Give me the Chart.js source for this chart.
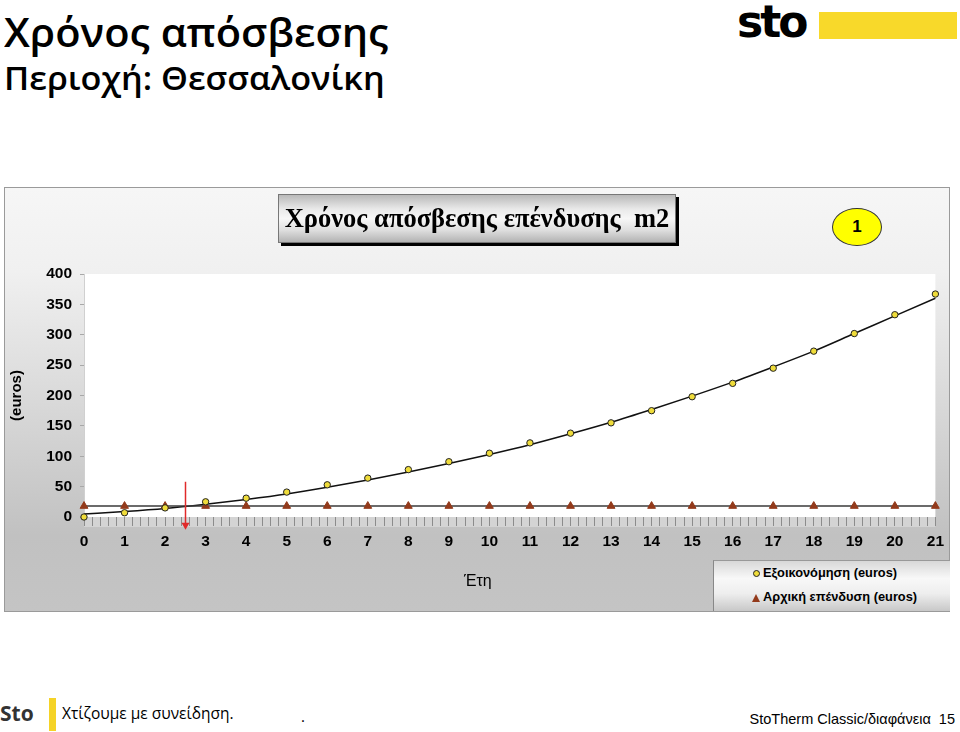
<!DOCTYPE html>
<html>
<head>
<meta charset="utf-8">
<script src="https://cdn.jsdelivr.net/npm/chart.js@4.4.1/dist/chart.umd.min.js"></script>
<style>
  html, body { margin:0; padding:0; background:#fff; }
  body { width:960px; height:732px; position:relative; overflow:hidden; font-family:"Liberation Sans", Arial, sans-serif; }
  .abs { position:absolute; white-space:nowrap; }
  #t1 { left:4px; top:9px; font-family:"Open Sans", sans-serif; font-weight:600; font-size:39px; line-height:46px; color:#000; transform:scaleX(1.065); transform-origin:0 0; }
  #t2 { left:4px; top:59px; font-family:"Open Sans", sans-serif; font-weight:600; font-size:32px; line-height:38px; color:#000; transform:scaleX(1.07); transform-origin:0 0; }
  #logo { left:737px; top:-6px; font-family:"DejaVu Sans", sans-serif; font-weight:bold; font-size:44px; letter-spacing:-3px; color:#000; line-height:56px; }
  #logobar { left:819px; top:12px; width:138px; height:27px; background:#f8d92a; }
  #chartWrap { left:4px; top:187px; width:946px; height:425px; }
  #titleBox { left:278px; top:194px; width:396px; height:47px; border:1px solid #777; box-shadow:3px 3px 0 #000;
     background:linear-gradient(to bottom,#b9b9b9 0%,#e9e9e9 30%,#f7f7f7 50%,#dedede 75%,#b3b3b3 100%);
     font-family:"Liberation Serif", "Times New Roman", serif; font-weight:bold; font-size:26.5px; line-height:47px; text-align:center; color:#000; }
  #badge { left:832px; top:208px; width:48px; height:36px; border:1px solid #333; border-radius:50%; background:#ffff00;
     font-weight:bold; font-size:17px; line-height:36px; text-align:center; color:#000; }
  #xTitle { left:464px; top:572px; font-size:16px; color:#000; }
  #legend { left:713px; top:560px; width:236px; height:50px; border-left:1px solid #888; border-top:1px solid #999;
     background:linear-gradient(to bottom,#d8d8d8 0%,#f8f8f8 35%,#eeeeee 65%,#c8c8c8 100%); }
  .lg { position:absolute; left:49px; font-weight:bold; font-size:12.8px; line-height:16px; color:#000; white-space:nowrap; }
  .mk { position:absolute; }
  #fSto { left:0px; top:699px; font-family:"Open Sans", sans-serif; font-weight:700; font-size:21px; line-height:28px; color:#333; }
  #fBar { left:49px; top:698px; width:7px; height:33px; background:#f5d327; }
  #fTxt { left:62px; top:702px; font-family:"Open Sans", sans-serif; font-size:15.5px; line-height:22px; color:#000; }
  #fDot { left:301px; top:705px; font-family:"Open Sans", sans-serif; font-size:15px; line-height:22px; color:#000; }
  #fRight { right:5px; top:709px; font-size:14.5px; line-height:20px; color:#000; }
</style>
</head>
<body>
<div id="t1" class="abs">Χρόνος απόσβεσης</div>
<div id="t2" class="abs">Περιοχή: Θεσσαλονίκη</div>
<div id="logo" class="abs">sto</div>
<div id="logobar" class="abs"></div>

<div id="chartWrap" class="abs"><canvas id="c" width="946" height="425"></canvas></div>
<div id="titleBox" class="abs">Χρόνος απόσβεσης επένδυσης&nbsp; m2</div>
<div id="badge" class="abs">1</div>
<div id="xTitle" class="abs">Έτη</div>
<div id="legend" class="abs"></div>

<div id="fSto" class="abs">Sto</div>
<div id="fBar" class="abs"></div>
<div id="fTxt" class="abs">Χτίζουμε με συνείδηση.</div>
<div id="fDot" class="abs">.</div>
<div id="fRight" class="abs">StoTherm Classic/διαφάνεια&nbsp; 15</div>

<script>
// ---- data ----
const years = [0,1,2,3,4,5,6,7,8,9,10,11,12,13,14,15,16,17,18,19,20,21];
const savings = [0,7,15,25,31,41,53,64,78,91,105,122,138,155,175,198,220,245,273,302,333,367];
const investment = [18,18,18,18,18,18,18,18,18,18,18,18,18,18,18,18,18,18,18,18,18,18];
const savingsTrend = [5,9,14,21,29,38,49,61,74,88,103,119,137,156,177,199,222,247,273,302,331,360];
const yTicks = [0,50,100,150,200,250,300,350,400];
const seriesNames = ['Εξοικονόμηση (euros)', 'Αρχική επένδυση (euros)'];
const yAxisTitle = '(euros)';
const breakEvenYear = 2.5;
const arrowRange = [58, -21];

const toXY = (ys) => years.map((x, i) => ({x: x, y: ys[i]}));

const bgPlugin = {
  id: 'bg',
  beforeDraw(chart) {
    const {ctx, width, height, chartArea: a} = chart;
    ctx.save();
    const g = ctx.createLinearGradient(0, 0, 0, height);
    g.addColorStop(0, '#f6f6f6');
    g.addColorStop(0.2, '#f0f0f0');
    g.addColorStop(0.82, '#c1c1c1');
    g.addColorStop(1, '#c4c4c4');
    ctx.fillStyle = g;
    ctx.fillRect(0, 0, width, height);
    ctx.fillStyle = '#d4d4d4';
    ctx.fillRect(a.left, a.bottom, a.right - a.left, 10);
    ctx.fillStyle = '#ffffff';
    ctx.fillRect(a.left, a.top, a.right - a.left, a.bottom - a.top);
    ctx.strokeStyle = '#9a9a9a';
    ctx.lineWidth = 1;
    ctx.strokeRect(0.5, 0.5, width - 1, height - 1);
    ctx.restore();
  }
};

const arrowPlugin = {
  id: 'arrow',
  afterDatasetsDraw(chart) {
    const {ctx, scales: {x, y}} = chart;
    const px = Math.round(x.getPixelForValue(breakEvenYear)) + 0.5;
    const y1 = y.getPixelForValue(arrowRange[0]);
    const y2 = y.getPixelForValue(arrowRange[1]);
    ctx.save();
    ctx.strokeStyle = '#e02a2a';
    ctx.fillStyle = '#e02a2a';
    ctx.lineWidth = 1.5;
    ctx.beginPath();
    ctx.moveTo(px, y1);
    ctx.lineTo(px, y2 - 6);
    ctx.stroke();
    ctx.beginPath();
    ctx.moveTo(px - 4, y2 - 7);
    ctx.lineTo(px + 4, y2 - 7);
    ctx.lineTo(px, y2);
    ctx.closePath();
    ctx.fill();
    ctx.restore();
  }
};

const chart = new Chart(document.getElementById('c'), {
  type: 'line',
  data: {
    datasets: [
      {
        label: seriesNames[0],
        data: toXY(savings),
        showLine: false,
        pointStyle: 'circle',
        pointRadius: 3.2,
        pointBackgroundColor: '#efdc3a',
        pointBorderColor: '#222',
        pointBorderWidth: 1,
        clip: false,
        order: 1
      },
      {
        label: seriesNames[1],
        data: toXY(investment),
        showLine: true,
        borderColor: '#3a3a3a',
        borderWidth: 1.5,
        pointStyle: 'triangle',
        pointRadius: 4.5,
        pointBackgroundColor: '#933a1b',
        pointBorderColor: '#933a1b',
        pointBorderWidth: 1,
        clip: false,
        order: 2
      },
      {
        label: 'trend',
        data: toXY(savingsTrend),
        showLine: true,
        borderColor: '#111',
        borderWidth: 1.5,
        tension: 0.4,
        cubicInterpolationMode: 'monotone',
        pointRadius: 0,
        clip: false,
        order: 3
      }
    ]
  },
  options: {
    responsive: false,
    animation: false,
    events: [],
    layout: { padding: { left: 0, top: 87, right: 12, bottom: 0 } },
    plugins: { legend: { display: false }, tooltip: { enabled: false }, title: { display: false } },
    scales: {
      x: {
        type: 'linear',
        min: 0, max: 21,
        afterFit(s) { s.height = 95; },
        border: { display: false },
        grid: { drawOnChartArea: false, drawTicks: true, tickLength: 9, color: '#8c8c8c' },
        ticks: {
          stepSize: 0.2,
          autoSkip: false,
          maxRotation: 0,
          padding: 6,
          color: '#000',
          font: { family: '"Liberation Sans", Arial, sans-serif', size: 15.5, weight: 'bold' },
          callback(v) { return Math.abs(v - Math.round(v)) < 1e-6 ? String(Math.round(v)) : ''; }
        }
      },
      y: {
        min: 0, max: 400,
        afterFit(s) { s.width = 80; },
        afterBuildTicks(s) { s.ticks = yTicks.map(v => ({value: v})); },
        border: { display: true, color: '#d0d0d0' },
        grid: { drawOnChartArea: false, tickLength: 4, color: '#a8a8a8' },
        ticks: {
          padding: 8,
          color: '#000',
          font: { family: '"Liberation Sans", Arial, sans-serif', size: 15.5, weight: 'bold' }
        },
        title: {
          display: true,
          text: yAxisTitle,
          color: '#000',
          padding: { top: 4, bottom: 0 },
          font: { family: '"Liberation Sans", Arial, sans-serif', size: 15, weight: 'bold' }
        }
      }
    }
  },
  plugins: [bgPlugin, arrowPlugin]
});

// HTML legend built from the chart's datasets
const legend = document.getElementById('legend');
chart.data.datasets.slice(0, 2).forEach((ds, i) => {
  const top = i === 0 ? 4 : 28;
  const row = document.createElement('div');
  row.className = 'lg';
  row.style.top = top + 'px';
  row.textContent = ds.label;
  const mk = document.createElement('span');
  mk.className = 'mk';
  if (ds.pointStyle === 'circle') {
    mk.style.cssText = 'left:39px;top:' + (top + 5) + 'px;width:5px;height:5px;border-radius:50%;border:1px solid #222;background:' + ds.pointBackgroundColor + ';';
  } else {
    mk.style.cssText = 'left:38px;top:' + (top + 5) + 'px;width:0;height:0;border-left:4px solid transparent;border-right:4px solid transparent;border-bottom:8px solid ' + ds.pointBackgroundColor + ';';
  }
  legend.appendChild(mk);
  legend.appendChild(row);
});
</script>
</body>
</html>
